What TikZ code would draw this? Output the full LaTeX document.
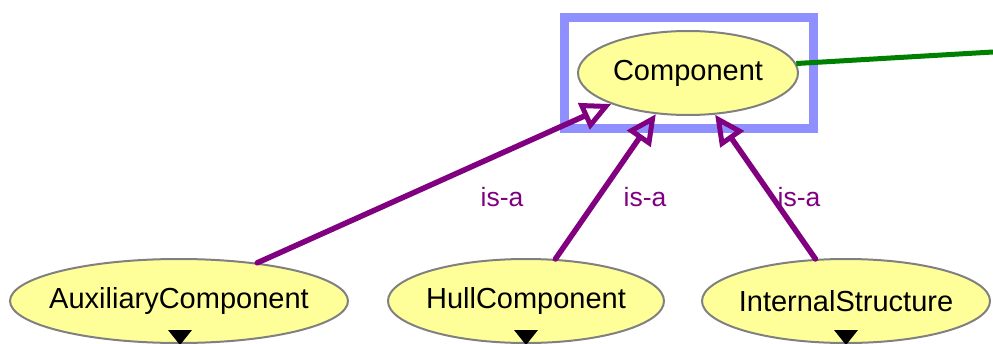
\documentclass[tikz,border=0pt]{standalone}
\usepackage{fontspec}
\setmainfont{Liberation Sans}
\usetikzlibrary{shapes.geometric,arrows.meta}
\definecolor{nodefill}{HTML}{FFFF99}
\definecolor{nodeline}{HTML}{808080}
\definecolor{isapurple}{HTML}{800080}
\definecolor{selblue}{HTML}{8F8FFF}
\definecolor{relgreen}{HTML}{008000}
\newcommand{\zerow}[1]{\makebox[0pt]{#1}}
\tikzset{
  cls/.style={ellipse, draw=nodeline, fill=nodefill, line width=2pt, inner sep=0pt,
    font=\fontsize{29}{34}\selectfont},
  isa/.style={draw=isapurple, line width=5.5pt, line cap=round,
    -{Triangle[open, length=30pt, width=28pt, line width=5pt]}},
  isalabel/.style={text=isapurple, font=\fontsize{26.5}{32}\selectfont, inner sep=0pt},
  expander/.style={fill=black},
}
\begin{document}
\begin{tikzpicture}[x=1pt,y=-1pt]
\useasboundingbox (0,0) rectangle (993,343);
\draw[selblue, line width=9pt] (564,17) rectangle (813,128);
\node[cls, minimum width=220pt, minimum height=84pt] (comp) at (688,73) {\zerow{Component}};
\node[cls, minimum width=338pt, minimum height=84pt] (aux) at (179,301) {\zerow{AuxiliaryComponent}};
\node[cls, minimum width=276pt, minimum height=84pt] (hull) at (526,301) {\zerow{HullComponent}};
\node[cls, minimum width=288pt, minimum height=84pt] (int) at (846,301) {\zerow{InternalStructure}};
\coordinate (gend) at (993,52);
\draw[relgreen, line width=5pt] (comp.5) -- (gend);
\draw[isa] (aux.26) -- (comp.202);
\draw[isa] (hull.55) -- (comp.232);
\draw[isa] (int.126) -- (comp.303);
\node[isalabel] (l1) at (502,197) {is-a};
\node[isalabel] (l2) at (645,197) {is-a};
\node[isalabel] (l3) at (799,197) {is-a};
\fill[expander] (168,330) -- (192,330) -- (180,345) -- cycle;
\fill[expander] (514,330) -- (538,330) -- (526,345) -- cycle;
\fill[expander] (834,330) -- (858,330) -- (846,345) -- cycle;
\end{tikzpicture}
\end{document}
